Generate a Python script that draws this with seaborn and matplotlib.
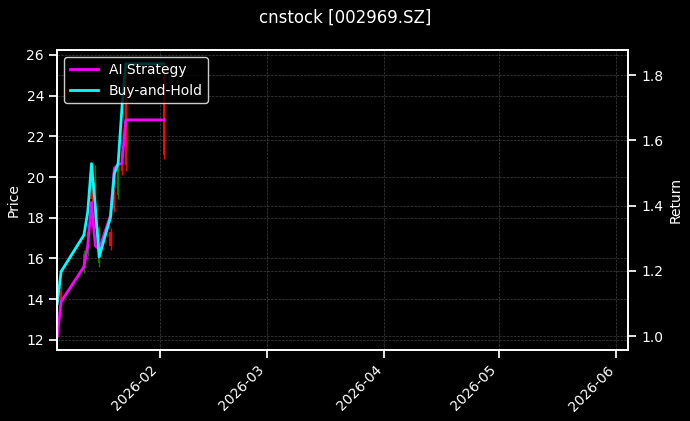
import pandas as pd
import numpy as np
import matplotlib.pyplot as plt
import matplotlib.dates as mdates
import seaborn as sns

# dark look like the original backtest chart
plt.style.use("dark_background")
sns.set_context("notebook", rc={"font.size": 10, "axes.labelsize": 10,
                                "xtick.labelsize": 10, "ytick.labelsize": 10,
                                "legend.fontsize": 10})

# --- data ---
dates = ['2026-01-05', '2026-01-06', '2026-01-12', '2026-01-13', '2026-01-14',
         '2026-01-15', '2026-01-16', '2026-01-19', '2026-01-20', '2026-01-21',
         '2026-01-22', '2026-01-23', '2026-02-02']
opens = [12.4, 14.4, 15.5, 16.3, 19.9, 18.0, 15.8, 17.3, 19.0, 19.1, 21.3, 25.2, 24.9]
highs = [13.2, 14.6, 16.4, 17.5, 20.6, 20.6, 17.6, 17.5, 19.4, 20.9, 21.6, 25.57, 25.3]
lows = [12.18, 13.7, 15.3, 16.1, 18.6, 17.5, 15.6, 16.4, 18.3, 18.9, 20.1, 20.3, 20.9]
closes = [13.0, 13.85, 16.2, 17.3, 18.9, 19.7, 17.5, 16.6, 18.5, 20.7, 20.3, 20.6, 21.1]

ai_return = [1.00, 1.106, 1.213, 1.277, 1.41, 1.277, 1.267, 1.37, 1.515, 1.525, 1.53, 1.663, 1.663]
bh_return = [1.10, 1.198, 1.31, 1.38, 1.529, 1.398, 1.243, 1.365, 1.498, 1.53, 1.70, 1.835, 1.835]

x_start = '2026-01-05'
x_end = '2026-06-04'

# --- build frames ---
px = pd.DataFrame({'date': pd.to_datetime(dates), 'open': opens, 'high': highs,
                   'low': lows, 'close': closes})
px['color'] = np.where(px['close'] >= px['open'], 'green', 'red')

ret = pd.DataFrame({'date': pd.to_datetime(dates) , 'AI Strategy': ai_return,
                    'Buy-and-Hold': bh_return})
ret = ret.melt(id_vars='date', var_name='Series', value_name='Return')

fig, ax = plt.subplots(figsize=(6.9, 4.21), dpi=100)
fig.subplots_adjust(left=0.083, right=0.910, top=0.881, bottom=0.169)

# candles on the price axis
ax.vlines(px['date'], px['low'], px['high'], color=px['color'], linewidth=1)
ax.bar(px['date'], px['close'] - px['open'], bottom=px['open'], width=0.6,
       color=px['color'])
ax.set_ylabel('Price')
ax.grid(True, linestyle='--', linewidth=0.5, color='gray', alpha=0.5)

# strategy curves on a twin axis
ax2 = ax.twinx()
sns.lineplot(data=ret, x='date', y='Return', hue='Series',
             palette={'AI Strategy': 'magenta', 'Buy-and-Hold': 'cyan'},
             linewidth=2, ax=ax2, legend=False)
ax2.set_ylabel('Return')
ax2.set_xlabel('')
ax2.grid(True, linestyle='--', linewidth=0.5, color='gray', alpha=0.5)

handles = [plt.Line2D([], [], color='magenta', linewidth=2),
           plt.Line2D([], [], color='cyan', linewidth=2)]
ax2.legend(handles, ['AI Strategy', 'Buy-and-Hold'], loc='upper left',
           facecolor='black', edgecolor='white')

ax.set_xlim(pd.Timestamp(x_start), pd.Timestamp(x_end))
ax.xaxis.set_major_locator(mdates.MonthLocator())
ax.xaxis.set_major_formatter(mdates.DateFormatter('%Y-%m'))
plt.setp(ax.get_xticklabels(), rotation=45, ha='right')
ax.set_xlabel('')

fig.suptitle('cnstock [002969.SZ]', fontsize=12)

plt.savefig('out.png', dpi=100, facecolor='black')
